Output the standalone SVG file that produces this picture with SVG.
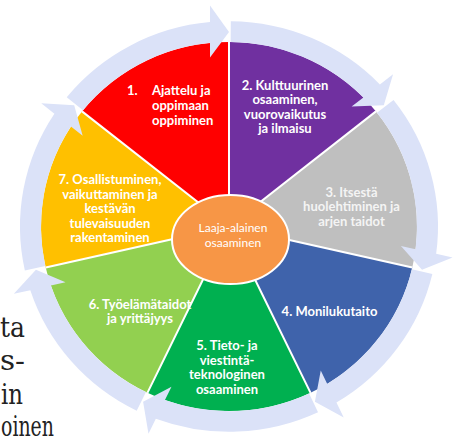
<svg xmlns="http://www.w3.org/2000/svg" width="459" height="444" viewBox="0 0 459 444">
<style>
.lbl{font-family:Lato,"Open Sans","DejaVu Sans",sans-serif;font-weight:bold;font-size:13px;fill:#fff;text-anchor:middle}
.ctr{font-family:Lato,"Open Sans","DejaVu Sans",sans-serif;font-size:12px;fill:#fff;text-anchor:middle}
.ring{fill:#DBE2F8}
.sep{stroke:#fff;stroke-width:2;fill:none}
.side{font-family:"DejaVu Serif","Liberation Serif",serif;font-size:27px;fill:#222}
</style>
<rect width="459" height="444" fill="#fff"/>
<g id="sidetext">
<text class="side" x="0" y="337" textLength="25" lengthAdjust="spacingAndGlyphs">ta</text>
<text class="side" x="0" y="370" textLength="25" lengthAdjust="spacingAndGlyphs">s-</text>
<text class="side" x="1" y="404" textLength="22" lengthAdjust="spacingAndGlyphs">in</text>
<text class="side" x="1" y="436" textLength="53" lengthAdjust="spacingAndGlyphs">oinen</text>
</g>
<g id="n1"><path transform="translate(229 226.5) scale(1 0.982)" fill="#FF0000" d="M0 0L-146.98 -117.22A188 188 0 0 1 0 -188Z"/>
<text class="lbl" style="text-anchor:start"><tspan x="127" y="94.5">1.</tspan><tspan x="152" y="94.5">Ajattelu ja</tspan><tspan x="152" y="109.5">oppimaan</tspan><tspan x="152" y="124.5">oppiminen</tspan></text></g>
<g id="n2"><path transform="translate(229 226.5) scale(1 0.982)" fill="#7030A0" d="M0 0L0 -188A188 188 0 0 1 146.98 -117.22Z"/>
<text class="lbl"><tspan x="285" y="89.5">2. Kulttuurinen</tspan><tspan x="285" y="104.1">osaaminen,</tspan><tspan x="285" y="118.7">vuorovaikutus</tspan><tspan x="285" y="133.3">ja ilmaisu</tspan></text></g>
<g id="n3"><path transform="translate(229 226.5) scale(1 0.982)" fill="#BFBFBF" d="M0 0L146.98 -117.22A188 188 0 0 1 183.29 41.83Z"/>
<text class="lbl" style="fill:#F4F4F4"><tspan x="351.5" y="196.5">3. Itsestä</tspan><tspan x="351.5" y="211.3">huolehtiminen ja</tspan><tspan x="351.5" y="226">arjen taidot</tspan></text></g>
<g id="n4"><path transform="translate(229 226.5) scale(1 0.982)" fill="#3F63AB" d="M0 0L183.29 41.83A188 188 0 0 1 81.57 169.38Z"/>
<text class="lbl"><tspan x="329.5" y="315.5">4. Monilukutaito</tspan></text></g>
<g id="n5"><path transform="translate(229 226.5) scale(1 0.982)" fill="#00B050" d="M0 0L81.57 169.38A188 188 0 0 1 -81.57 169.38Z"/>
<text class="lbl"><tspan x="227" y="350">5. Tieto- ja</tspan><tspan x="227" y="364.7">viestintä-</tspan><tspan x="227" y="379.4">teknologinen</tspan><tspan x="227" y="394.1">osaaminen</tspan></text></g>
<g id="n6"><path transform="translate(229 226.5) scale(1 0.982)" fill="#92D050" d="M0 0L-81.57 169.38A188 188 0 0 1 -183.29 41.83Z"/>
<text class="lbl"><tspan x="140" y="308.5">6. Työelämätaidot</tspan><tspan x="140" y="323">ja yrittäjyys</tspan></text></g>
<g id="n7"><path transform="translate(229 226.5) scale(1 0.982)" fill="#FFC000" d="M0 0L-183.29 41.83A188 188 0 0 1 -146.98 -117.22Z"/>
<text class="lbl"><tspan x="110" y="184.3">7. Osallistuminen,</tspan><tspan x="110" y="198.8">vaikuttaminen ja</tspan><tspan x="110" y="213.3">kestävän</tspan><tspan x="110" y="227.8">tulevaisuuden</tspan><tspan x="110" y="242.3">rakentaminen</tspan></text></g>
<g id="connectors" transform="translate(229 226.5) scale(1 0.982)">
<path class="ring" d="M1.82 -208.99A209 209 0 0 1 150.89 -144.63L164.07 -155.14L154.80 -123.45L122.63 -122.09L134.39 -131.47A188 188 0 0 0 1.64 -187.99Z"/>
<path class="ring" d="M164.53 -128.88A209 209 0 0 1 207.15 27.79L223.59 31.54L193.04 44.06L171.92 19.75L186.58 23.10A188 188 0 0 0 148.00 -115.93Z"/>
<path class="ring" d="M203.35 48.28A209 209 0 0 1 107.43 179.28L114.74 194.47L85.91 178.39L91.75 146.72L98.27 160.27A188 188 0 0 0 182.91 43.43Z"/>
<path class="ring" d="M89.03 189.09A209 209 0 0 1 -73.19 195.77L-80.51 210.96L-85.91 178.39L-57.51 163.21L-64.04 176.76A188 188 0 0 0 80.09 170.09Z"/>
<path class="ring" d="M-92.32 187.50A209 209 0 0 1 -198.69 64.84L-215.13 68.59L-193.04 44.06L-163.46 56.80L-178.12 60.14A188 188 0 0 0 -83.04 168.66Z"/>
<path class="ring" d="M-204.16 44.73A209 209 0 0 1 -174.58 -114.92L-187.76 -125.43L-154.80 -123.45L-146.32 -92.39L-158.08 -101.76A188 188 0 0 0 -183.64 40.23Z"/>
<path class="ring" d="M-162.26 -131.73A209 209 0 0 1 -19 -208.14L-19 -225L0 -198L-19 -172L-19 -187.04A188 188 0 0 0 -145.96 -118.49Z"/>
<path class="sep" d="M0 0L0 -188M0 0L146.98 -117.22M0 0L183.29 41.83M0 0L81.57 169.38M0 0L-81.57 169.38M0 0L-183.29 41.83M0 0L-146.98 -117.22"/>
</g>
<g id="center"><ellipse cx="230.5" cy="239.5" rx="58.5" ry="44.5" fill="#F79646" stroke="#fff" stroke-width="2"/>
<text class="ctr"><tspan x="233" y="232">Laaja-alainen</tspan><tspan x="233" y="246.5">osaaminen</tspan></text></g>
</svg>
